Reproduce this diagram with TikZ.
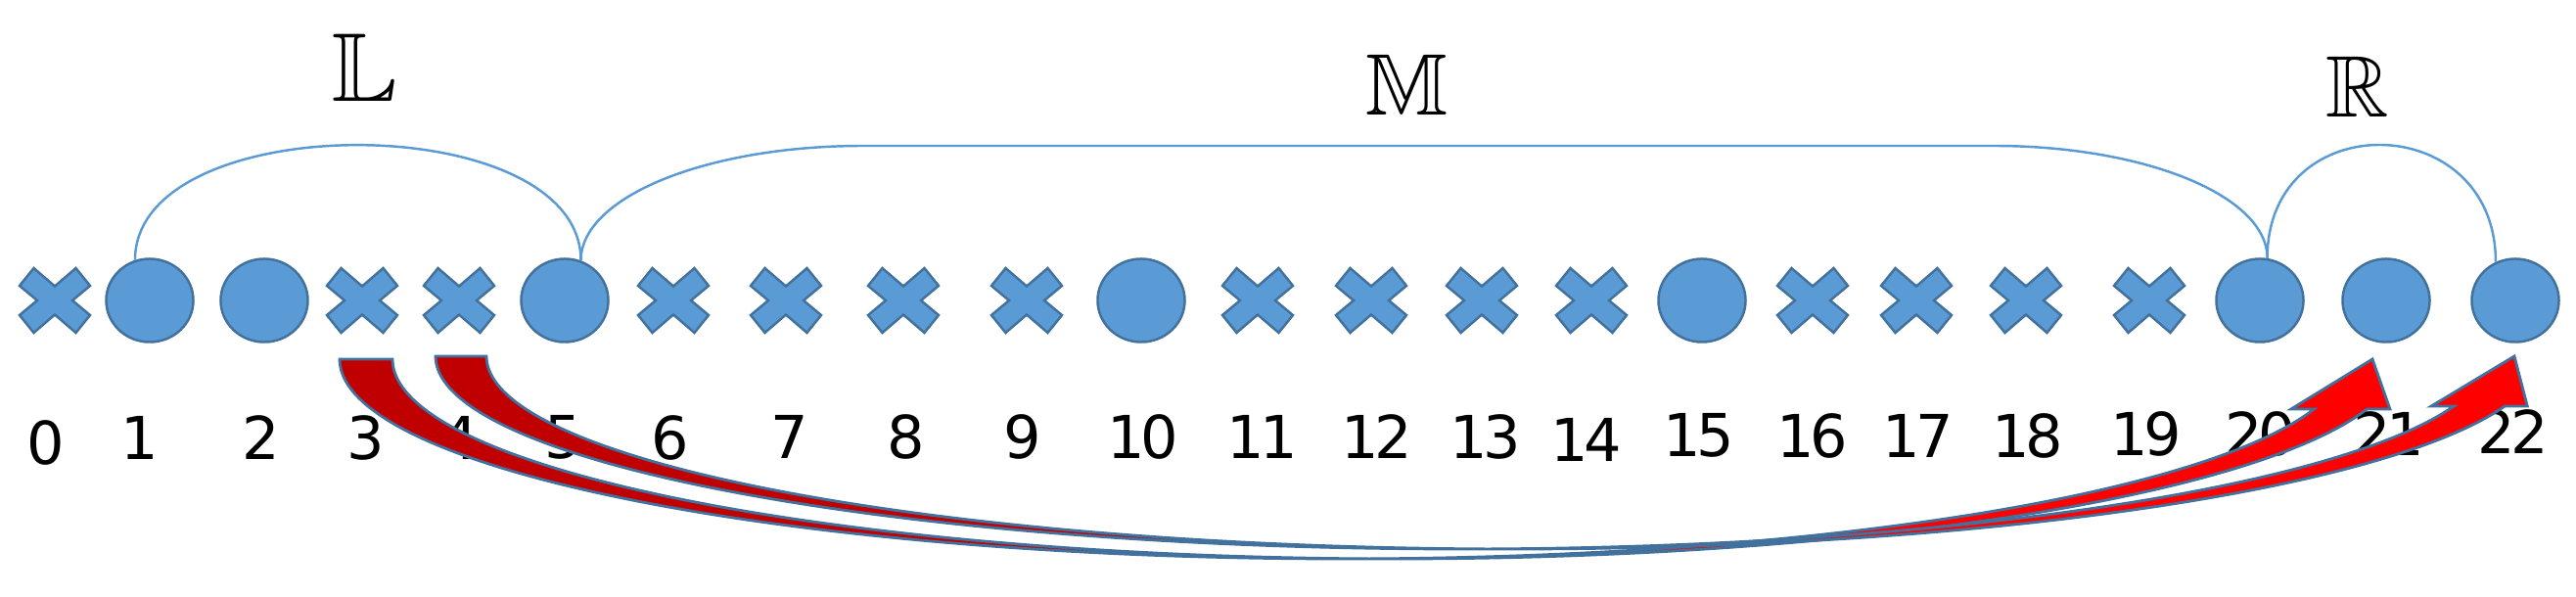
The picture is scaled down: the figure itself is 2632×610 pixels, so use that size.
\documentclass[tikz,border=0pt]{standalone}
\usepackage{fontspec}
\usepackage{amssymb}
\setmainfont{DejaVu Sans}
\newfontfamily\lblfont[LetterSpace=-7]{DejaVu Sans}
\usetikzlibrary{shapes.geometric}
\definecolor{nodeblue}{HTML}{5B9BD5}
\definecolor{edgeblue}{HTML}{41719C}
\definecolor{taildark}{HTML}{C00000}
\definecolor{headred}{HTML}{FF0000}
% curved up block arrow: #1 left, #2 top, #3 band width, #4 ellipse x radius, #5 ellipse y radius, #6 head height, #7 head width
\newcommand{\cuarrow}[7]{%
  \pgfmathsetmacro{\cuaL}{#1+#4}%
  \pgfmathsetmacro{\cuaR}{#1+#4+#3}%
  \pgfmathsetmacro{\cuaAng}{asin(#6/#5)}%
  \pgfmathsetmacro{\cuaXv}{\cuaL+#4*cos(\cuaAng)}%
  \pgfmathsetmacro{\cuaXiv}{\cuaXv-(#7-#3)/2}%
  \pgfmathsetmacro{\cuaXviii}{\cuaXv+#3+(#7-#3)/2}%
  \pgfmathsetmacro{\cuaTip}{#1+2*#4+#3/2}%
  \pgfmathsetmacro{\cuaY}{#2+#6}%
  \fill[taildark] plot[domain=180:90,samples=90,variable=\q] ({\cuaL+#4*cos(\q)},{#2+#5*sin(\q)})
     -- plot[domain=90:180,samples=90,variable=\q] ({\cuaR+#4*cos(\q)},{#2+#5*sin(\q)}) -- cycle;
  \fill[headred] plot[domain=90:\cuaAng,samples=120,variable=\q] ({\cuaL+#4*cos(\q)},{#2+#5*sin(\q)})
     -- (\cuaXiv,\cuaY) -- (\cuaTip,#2) -- (\cuaXviii,\cuaY)
     -- plot[domain=\cuaAng:90,samples=120,variable=\q] ({\cuaR+#4*cos(\q)},{#2+#5*sin(\q)}) -- cycle;
  \draw[arrowedge] plot[domain=180:\cuaAng,samples=220,variable=\q] ({\cuaL+#4*cos(\q)},{#2+#5*sin(\q)})
     -- (\cuaXiv,\cuaY) -- (\cuaTip,#2) -- (\cuaXviii,\cuaY)
     -- plot[domain=\cuaAng:180,samples=220,variable=\q] ({\cuaR+#4*cos(\q)},{#2+#5*sin(\q)}) -- cycle;
}
\tikzset{
  dot/.style={ellipse, fill=nodeblue, draw=edgeblue, line width=0.7pt, minimum width=0.89cm, minimum height=0.85cm, inner sep=0pt},
  crossshape/.style={fill=nodeblue, draw=edgeblue, line width=0.7pt, line join=miter},
  crosspic/.pic={\path[crossshape] (-21.5,-33) -- (0,-14.5) -- (21.5,-33) -- (36,-15) -- (18,0) -- (36,15) -- (21.5,33) -- (0,14.5) -- (-21.5,33) -- (-36,15) -- (-18,0) -- (-36,-15) -- cycle;},
  bracket/.style={draw=nodeblue, line width=0.7pt},
  lbl/.style={inner sep=0pt, font=\lblfont\fontsize{17.2}{20}\selectfont},
  setname/.style={inner sep=0pt},
  arrowedge/.style={draw=edgeblue, line width=0.8pt, line join=miter}
}
\begin{document}
\begin{tikzpicture}[x=0.01cm, y=-0.01cm]
\fill[white] (0,0) rectangle (2632,610);
\useasboundingbox (0,0) rectangle (2632,610);
% elements
\foreach \n/\x in {1/153,2/270,5/577,10/1166,15/1739,20/2309,21/2438,22/2570}
  \node[dot] (p\n) at (\x,307) {};
\foreach \n/\x in {0/56,3/370,4/469,6/688,7/803,8/923,9/1049,11/1285,12/1401,13/1514,14/1626,16/1852,17/1958,18/2070,19/2196}
  {\coordinate (p\n) at (\x,307); \pic at (p\n) {crosspic};}
% set brackets
\coordinate (mL) at (882,149);
\coordinate (mR) at (2037,149);
\draw[bracket] (p1.110) .. controls +(0,-157) and +(0,-157) .. (p5.68);
\draw[bracket] (p5.68) .. controls +(0,-65) and +(-160,0) .. (mL) -- (mR) .. controls +(154,0) and +(0,-64) .. (p20.80);
\draw[bracket] (p20.80) .. controls +(0,-157) and +(0,-157) .. (p22.117);
% set names
\node[setname] (sL) at (373,69) {\scalebox{1.14}{\fontsize{24.88}{30}\selectfont$\mathbb{L}$}};
\node[setname] (sM) at (1438,87) {\scalebox{1.02}{\fontsize{24.88}{30}\selectfont$\mathbb{M}$}};
\node[setname] (sR) at (2409,89) {\scalebox{1.02}{\fontsize{24.88}{30}\selectfont$\mathbb{R}$}};
% index labels
\foreach \n/\x/\y in {0/47/452,1/143/447,2/267/447,3/374/447,4/470/447,5/576/447,6/685/447,7/807/446,8/926/446,9/1045/446,10/1168/446,11/1290/446,12/1407/446,13/1518/446,14/1621/449,15/1736/445,16/1852/445,17/1960/445,18/2072/445,19/2193/443,20/2310/443,21/2441/443,22/2568/441}
  \node[lbl] (t\n) at (\x,\y) {\n};
% curved block arrows
\cuarrow{347}{367}{54}{1025}{204}{51}{101}
\cuarrow{445}{364}{52}{1049}{197}{51}{98}
\end{tikzpicture}
\end{document}
